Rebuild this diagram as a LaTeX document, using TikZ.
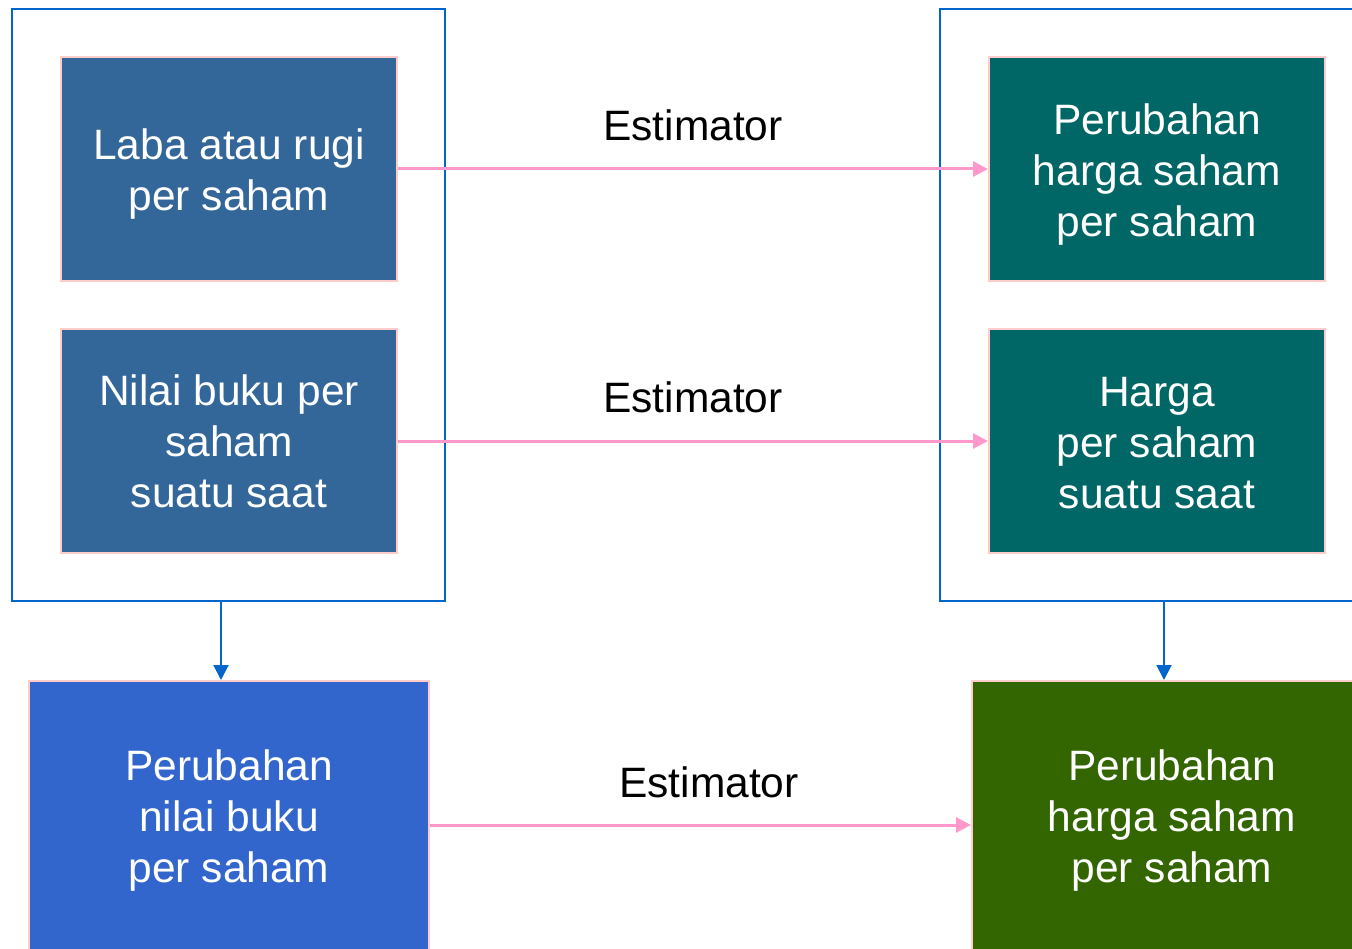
\documentclass[tikz,border=0pt]{standalone}
\usepackage{fontspec}
\setmainfont{Liberation Sans}
\usetikzlibrary{arrows.meta}
\definecolor{frameblue}{HTML}{0066CC}
\definecolor{edgepink}{HTML}{FFCCCC}
\definecolor{arrowpink}{HTML}{FF99CC}
\definecolor{steel}{HTML}{336699}
\definecolor{teal}{HTML}{006666}
\definecolor{royal}{HTML}{3366CC}
\definecolor{olive}{HTML}{336600}
\tikzset{
  outerframe/.style={draw=frameblue,line width=2pt,minimum width=433pt,minimum height=592pt,inner sep=0pt},
  inbox/.style={draw=edgepink,line width=2pt,minimum width=336pt,minimum height=224pt,inner sep=0pt},
  botbox/.style={draw=edgepink,line width=2pt,minimum width=400pt,minimum height=288pt,inner sep=0pt},
  boxtext/.style={text=white,align=center,inner sep=0pt,font=\fontsize{42.5}{51}\selectfont},
  pinkarrow/.style={draw=arrowpink,line width=3pt,-{Triangle[length=15pt,width=15pt]}},
  bluearrow/.style={draw=frameblue,line width=2pt,-{Triangle[length=15pt,width=15pt]}},
  estlabel/.style={anchor=base,font=\fontsize{42.5}{51}\selectfont,inner sep=0pt}
}
\begin{document}
\begin{tikzpicture}[x=1pt,y=-1pt]
\useasboundingbox (0,0) rectangle (1352,949);
\clip (0,0) rectangle (1352,949);
\node[outerframe] (L) at (228.5,305) {};
\node[outerframe] (R) at (1156.5,305) {};
\node[inbox,fill=steel] (a1) at (229,169) {};
\node[inbox,fill=steel] (a2) at (229,441) {};
\node[inbox,fill=teal] (b1) at (1157,169) {};
\node[inbox,fill=teal] (b2) at (1157,441) {};
\node[botbox,fill=royal] (c1) at (229,825) {};
\node[botbox,fill=olive] (c2) at (1172,825) {};
\node[boxtext] (ta1) at ([yshift=-5pt]a1.center) {Laba atau rugi\\per saham};
\node[boxtext] (ta2) at ([yshift=0pt]a2.center) {Nilai buku per\\saham\\suatu saat};
\node[boxtext] (tb1) at ([yshift=-6pt]b1.center) {Perubahan\\harga saham\\per saham};
\node[boxtext] (tb2) at ([yshift=-2pt]b2.center) {Harga\\per saham\\suatu saat};
\node[boxtext] (tc1) at ([yshift=4pt]c1.center) {Perubahan\\nilai buku\\per saham};
\node[boxtext] (tc2) at ([yshift=4pt]c2.center) {Perubahan\\harga saham\\per saham};
\draw[pinkarrow] (a1.east) -- (b1.west);
\draw[pinkarrow] (a2.east) -- (b2.west);
\draw[pinkarrow] (c1.east) -- (c2.west);
\draw[bluearrow] (L.south -| 221,0) -- (c1.north -| 221,0);
\draw[bluearrow] (R.south -| 1164,0) -- (c2.north -| 1164,0);
\node[estlabel] (e1) at (693,141) {Estimator};
\node[estlabel] (e2) at (693,413) {Estimator};
\node[estlabel] (e3) at (709,797) {Estimator};
\end{tikzpicture}
\end{document}
